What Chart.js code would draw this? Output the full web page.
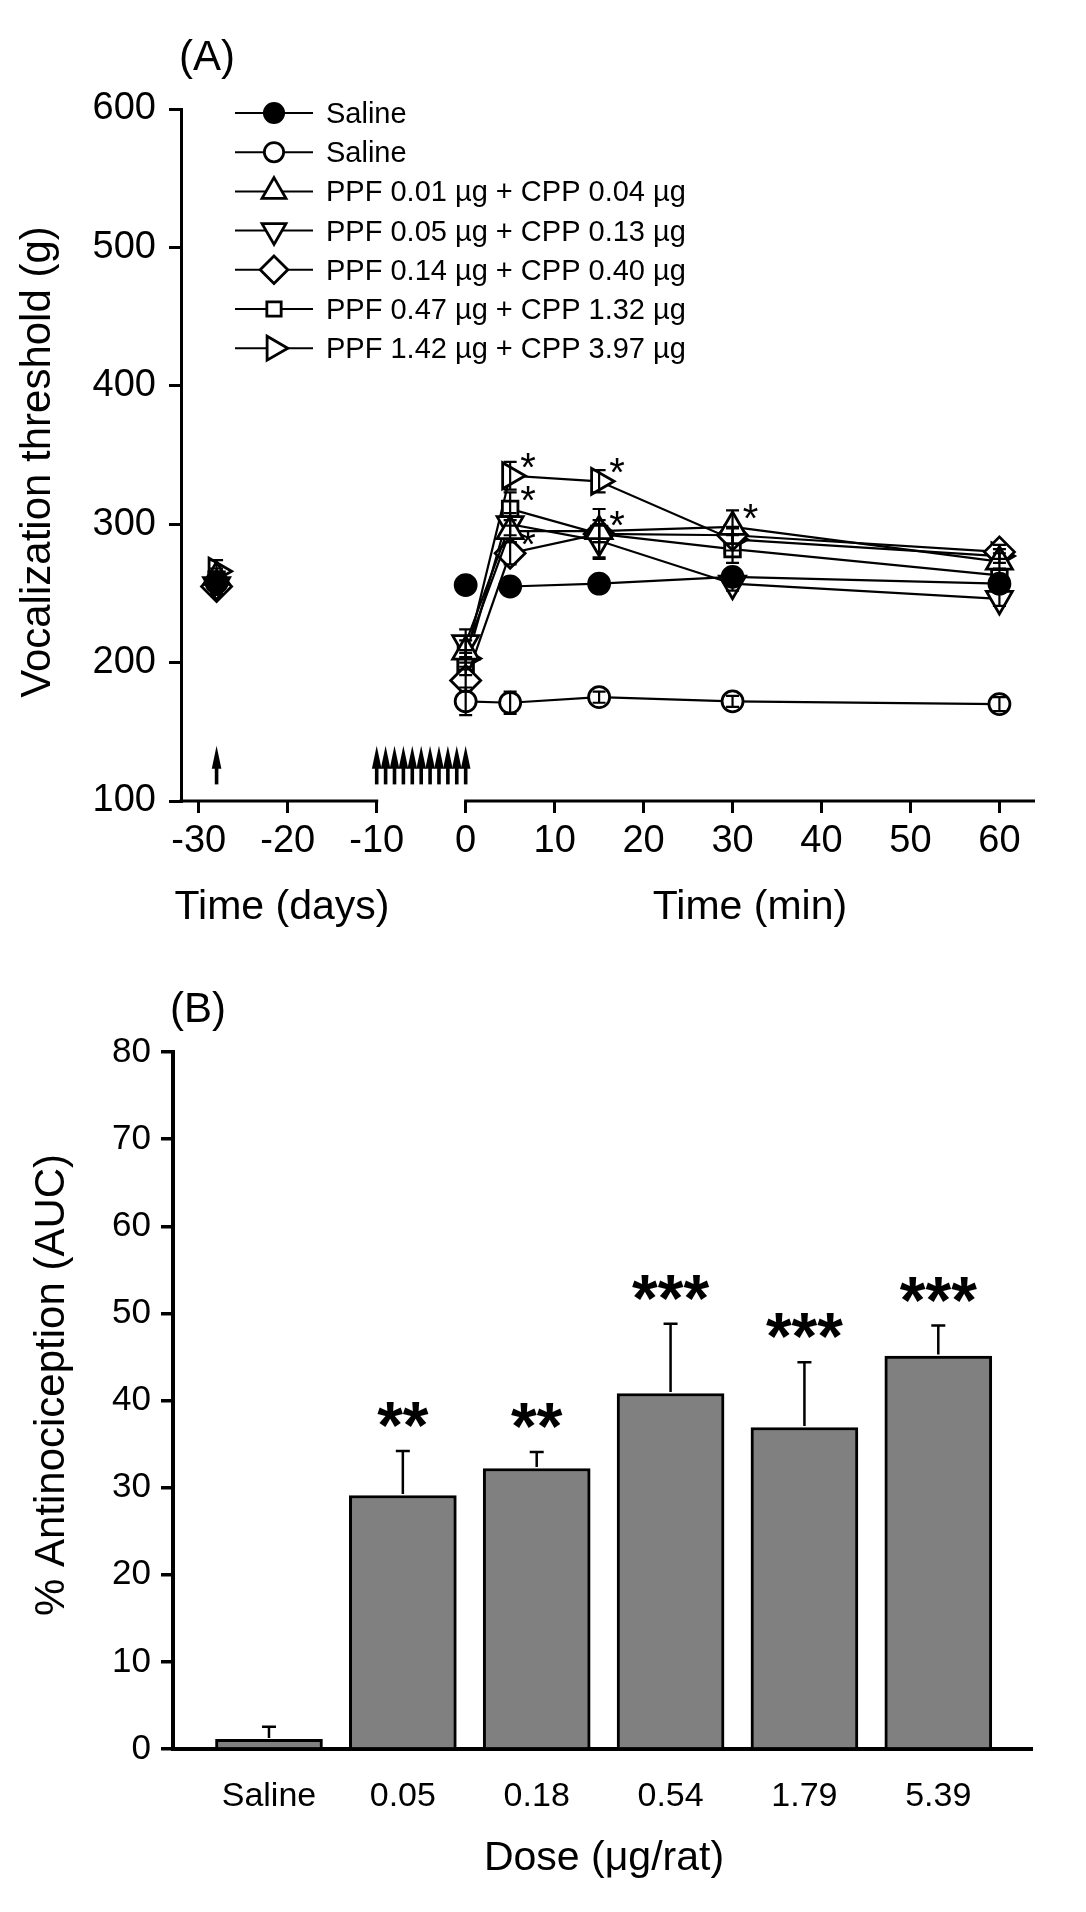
<!DOCTYPE html>
<html><head><meta charset="utf-8">
<script src="https://cdn.jsdelivr.net/npm/chart.js@4.4.1/dist/chart.umd.min.js"></script>
<style>
html,body{margin:0;padding:0;background:#fff;}
#wrap{position:relative;width:1086px;height:1912px;background:#fff;overflow:hidden;}
canvas{position:absolute;left:0;}
#ca{top:0;} #cb{top:960px;}
</style></head><body>
<div id="wrap"><canvas id="ca" width="1086" height="960"></canvas><canvas id="cb" width="1086" height="952"></canvas></div>
<script>
const FONT = '"Liberation Sans", Arial, Helvetica, sans-serif';

// ---------- Panel A data ----------
const timePoints = [-28, 0, 5, 15, 30, 60];
const xTickValues = [-30, -20, -10, 0, 10, 20, 30, 40, 50, 60];
const injectionDays = [-28, -10, -9, -8, -7, -6, -5, -4, -3, -2, -1, 0];

const salineFilled      = [258, 256, 255, 257, 262, 257];
const salineFilledSEM   = [4, 3, 3, 3, 4, 3];
const salineOpen        = [258, 172, 171, 175, 172, 170];
const salineOpenSEM     = [5, 10, 8, 4, 4, 5];
const ppf001            = [262, 208, 295, 295, 298, 273];
const ppf001SEM         = [6, 8, 8, 8, 12, 6];
const ppf005            = [256, 214, 300, 288, 257, 246];
const ppf005SEM         = [6, 10, 8, 12, 5, 5];
const ppf014            = [255, 187, 279, 293, 292, 280];
const ppf014SEM         = [6, 8, 8, 6, 6, 5];
const ppf047            = [260, 199, 311, 293, 282, 263];
const ppf047SEM         = [6, 8, 12, 18, 10, 5];
const ppf142            = [266, 203, 335, 331, 289, 277];
const ppf142SEM         = [8, 6, 10, 8, 8, 5];

const legendLabels = ['Saline', 'Saline', 'PPF 0.01 µg + CPP 0.04 µg', 'PPF 0.05 µg + CPP 0.13 µg',
  'PPF 0.14 µg + CPP 0.40 µg', 'PPF 0.47 µg + CPP 1.32 µg', 'PPF 1.42 µg + CPP 3.97 µg'];
// significance stars: [series index, time index]
const starsA = [[6, 2], [5, 2], [4, 2], [6, 3], [5, 3], [2, 4]];

// ---------- Panel B data ----------
const doseLabels = ['Saline', '0.05', '0.18', '0.54', '1.79', '5.39'];
const aucMeans   = [1.1, 29.1, 32.2, 40.8, 36.9, 45.1];
const aucSEM     = [1.45, 5.1, 1.9, 8.0, 7.5, 3.5];
const aucStars   = ['', '**', '**', '***', '***', '***'];

// ---------- styles ----------
const seriesA = [
  {v: salineFilled, e: salineFilledSEM, style: 'circle',   rot: 0,   r: 10.5, fill: '#000', gaps: [0, 1]},
  {v: salineOpen,   e: salineOpenSEM,   style: 'circle',   rot: 0,   r: 10.5, fill: '#fff', gaps: [0]},
  {v: ppf001,       e: ppf001SEM,       style: 'triangle', rot: 0,   r: 15,   fill: '#fff', gaps: [0]},
  {v: ppf005,       e: ppf005SEM,       style: 'triangle', rot: 180, r: 15,   fill: '#fff', gaps: [0]},
  {v: ppf014,       e: ppf014SEM,       style: 'rectRot',  rot: 0,   r: 15,   fill: '#fff', gaps: [0]},
  {v: ppf047,       e: ppf047SEM,       style: 'rect',     rot: 0,   r: 11,   fill: '#fff', gaps: [0]},
  {v: ppf142,       e: ppf142SEM,       style: 'triangle', rot: 90,  r: 15,   fill: '#fff', gaps: [0]},
];

function drawMarker(ctx, style, rot, r, x, y, fill) {
  ctx.save();
  ctx.translate(x, y);
  ctx.rotate(rot * Math.PI / 180);
  ctx.beginPath();
  if (style === 'circle') {
    ctx.arc(0, 0, r, 0, Math.PI * 2);
  } else if (style === 'triangle') {
    for (let k = 0; k < 3; k++) {
      const a = k * 2 * Math.PI / 3;
      const px = Math.sin(a) * r, py = -Math.cos(a) * r;
      if (k === 0) ctx.moveTo(px, py); else ctx.lineTo(px, py);
    }
    ctx.closePath();
  } else if (style === 'rect') {
    const h = r * Math.SQRT1_2;
    ctx.rect(-h, -h, 2 * h, 2 * h);
  } else if (style === 'rectRot') {
    ctx.moveTo(0, -r); ctx.lineTo(r, 0); ctx.lineTo(0, r); ctx.lineTo(-r, 0); ctx.closePath();
  }
  ctx.fillStyle = fill; ctx.fill();
  ctx.lineWidth = 2.8; ctx.strokeStyle = '#000'; ctx.stroke();
  ctx.restore();
}

// ---------- Panel A plugins ----------
const panelAPlugin = {
  id: 'panelA',
  afterDraw(chart) {
    const ctx = chart.ctx, xs = chart.scales.x, ys = chart.scales.y, ca = chart.chartArea;
    ctx.save();
    // broken x axis
    ctx.strokeStyle = '#000'; ctx.lineWidth = 3;
    ctx.beginPath();
    ctx.moveTo(ca.left - 1.5, ca.bottom); ctx.lineTo(xs.getPixelForValue(-10) + 1.5, ca.bottom);
    ctx.moveTo(xs.getPixelForValue(0) - 1.5, ca.bottom); ctx.lineTo(ca.right, ca.bottom);
    ctx.stroke();

    // error bars
    ctx.lineWidth = 2.2;
    seriesA.forEach(s => {
      s.v.forEach((val, i) => {
        const e = s.e[i]; if (!e) return;
        const x = xs.getPixelForValue(timePoints[i]);
        const y1 = ys.getPixelForValue(val + e), y2 = ys.getPixelForValue(val - e);
        ctx.beginPath();
        ctx.moveTo(x, y1); ctx.lineTo(x, y2);
        ctx.moveTo(x - 6.5, y1); ctx.lineTo(x + 6.5, y1);
        ctx.moveTo(x - 6.5, y2); ctx.lineTo(x + 6.5, y2);
        ctx.stroke();
      });
    });

    // injection arrows
    ctx.fillStyle = '#000';
    injectionDays.forEach(d => {
      const x = xs.getPixelForValue(d);
      const yTip = ys.getPixelForValue(140), yBase = ys.getPixelForValue(112);
      ctx.beginPath();
      ctx.moveTo(x, yTip); ctx.lineTo(x + 4.8, yTip + 23); ctx.lineTo(x - 4.8, yTip + 23); ctx.closePath();
      ctx.fill();
      ctx.fillRect(x - 1.8, yTip + 15, 3.6, yBase - yTip - 15);
    });

    // stars
    ctx.font = '40px ' + FONT; ctx.textAlign = 'center'; ctx.textBaseline = 'alphabetic';
    starsA.forEach(([si, ti]) => {
      const x = xs.getPixelForValue(timePoints[ti]) + 18;
      const y = ys.getPixelForValue(seriesA[si].v[ti]) - 18;
      ctx.fillText('*', x, y + 0.575 * 40);
    });

    // legend
    ctx.font = '29px ' + FONT; ctx.textAlign = 'left'; ctx.textBaseline = 'middle';
    legendLabels.forEach((lab, i) => {
      const y = 113 + i * 39.2;
      ctx.lineWidth = 2; ctx.strokeStyle = '#000';
      ctx.beginPath(); ctx.moveTo(235, y); ctx.lineTo(313, y); ctx.stroke();
      const s = seriesA[i];
      drawMarker(ctx, s.style, s.rot, s.r * 0.92, 274, y, s.fill);
      ctx.fillStyle = '#000';
      ctx.fillText(lab, 326, y + 2);
    });

    // titles
    ctx.fillStyle = '#000';
    ctx.font = '42px ' + FONT; ctx.textAlign = 'left'; ctx.textBaseline = 'alphabetic';
    ctx.fillText('(A)', 179, 70);
    ctx.font = '41px ' + FONT; ctx.textAlign = 'center';
    ctx.fillText('Time (days)', 282, 919);
    ctx.fillText('Time (min)', 750, 919);
    ctx.save();
    ctx.translate(50, 462); ctx.rotate(-Math.PI / 2);
    ctx.font = '42px ' + FONT; ctx.textAlign = 'center'; ctx.textBaseline = 'alphabetic';
    ctx.fillText('Vocalization threshold (g)', 0, 0);
    ctx.restore();
    ctx.restore();
  }
};

new Chart(document.getElementById('ca'), {
  type: 'line',
  data: {
    datasets: seriesA.map((s, si) => ({
      label: legendLabels[si],
      data: timePoints.map((t, i) => ({x: t, y: s.v[i]})),
      borderColor: '#000', borderWidth: 2.2,
      pointStyle: s.style, pointRotation: s.rot,
      pointRadius: s.r, pointHoverRadius: s.r,
      pointBackgroundColor: s.fill, pointBorderColor: '#000', pointBorderWidth: 2.8,
      fill: false, tension: 0, clip: false,
      segment: { borderColor: c => s.gaps.includes(c.p0DataIndex) ? 'rgba(0,0,0,0)' : '#000' }
    }))
  },
  options: {
    responsive: false, animation: false, devicePixelRatio: 1,
    layout: { padding: { left: 0, right: 51, top: 109, bottom: 0 } },
    plugins: { legend: { display: false }, tooltip: { enabled: false } },
    events: [],
    scales: {
      x: {
        type: 'linear', min: -32, max: 64,
        afterFit(s) { s.height = 159; },
        afterBuildTicks(s) { s.ticks = xTickValues.map(v => ({value: v})); },
        border: { display: false },
        grid: { display: true, drawOnChartArea: false, drawTicks: true, tickLength: 12, color: '#000', lineWidth: 3 },
        ticks: { autoSkip: false, maxRotation: 0, minRotation: 0, padding: 6, color: '#000',
                 font: { family: FONT, size: 38 }, callback: v => String(v) }
      },
      y: {
        type: 'linear', min: 100, max: 600,
        afterFit(s) { s.width = 181; },
        border: { display: true, color: '#000', width: 3 },
        grid: { display: true, drawOnChartArea: false, drawTicks: true, tickLength: 12, color: '#000', lineWidth: 3 },
        ticks: { stepSize: 100, padding: 13, color: '#000', font: { family: FONT, size: 38 } }
      }
    }
  },
  plugins: [panelAPlugin]
});

// ---------- Panel B ----------
const OFF = 960;
const panelBPlugin = {
  id: 'panelB',
  afterDraw(chart) {
    const ctx = chart.ctx, xs = chart.scales.x, ys = chart.scales.y;
    ctx.save();
    ctx.strokeStyle = '#000'; ctx.fillStyle = '#000'; ctx.lineWidth = 2.5;
    aucMeans.forEach((m, i) => {
      const x = xs.getPixelForValue(i);
      const y0 = ys.getPixelForValue(m), y1 = ys.getPixelForValue(m + aucSEM[i]);
      ctx.beginPath();
      ctx.moveTo(x, y0 - 1.5); ctx.lineTo(x, y1);
      ctx.moveTo(x - 7, y1); ctx.lineTo(x + 7, y1);
      ctx.stroke();
      if (aucStars[i]) {
        ctx.font = 'bold 66px ' + FONT; ctx.textAlign = 'center'; ctx.textBaseline = 'alphabetic';
        ctx.fillText(aucStars[i], x, y1 - 41 + 0.575 * 66);
      }
    });
    ctx.font = '42px ' + FONT; ctx.textAlign = 'left'; ctx.textBaseline = 'alphabetic';
    ctx.fillText('(B)', 170, 1022 - OFF);
    ctx.font = '41px ' + FONT; ctx.textAlign = 'center';
    ctx.fillText('Dose (μg/rat)', 604, 1870 - OFF);
    ctx.save();
    ctx.translate(64, 1385 - OFF); ctx.rotate(-Math.PI / 2);
    ctx.font = '42px ' + FONT; ctx.textAlign = 'center'; ctx.textBaseline = 'alphabetic';
    ctx.fillText('% Antinociception (AUC)', 0, 0);
    ctx.restore();
    ctx.restore();
  }
};

new Chart(document.getElementById('cb'), {
  type: 'bar',
  data: {
    datasets: [{
      data: aucMeans.map((m, i) => ({x: i, y: m})),
      backgroundColor: '#808080', borderColor: '#000', borderWidth: 3,
      borderSkipped: 'start', barThickness: 107
    }]
  },
  options: {
    responsive: false, animation: false, devicePixelRatio: 1,
    layout: { padding: { left: 0, right: 54, top: 92, bottom: 0 } },
    plugins: { legend: { display: false }, tooltip: { enabled: false } },
    events: [],
    scales: {
      x: {
        type: 'linear', min: -0.717, max: 5.70, offset: false,
        afterFit(s) { s.height = 163; },
        afterBuildTicks(s) { s.ticks = doseLabels.map((l, i) => ({value: i})); },
        border: { display: true, color: '#000', width: 4 },
        grid: { display: false },
        ticks: { autoSkip: false, maxRotation: 0, minRotation: 0, padding: 19, color: '#000',
                 font: { family: FONT, size: 34 }, callback: v => doseLabels[v] }
      },
      y: {
        type: 'linear', min: 0, max: 80,
        afterFit(s) { s.width = 173; },
        border: { display: true, color: '#000', width: 4 },
        grid: { display: true, drawOnChartArea: false, drawTicks: true, tickLength: 12, color: '#000', lineWidth: 3.5 },
        ticks: { stepSize: 10, padding: 10, color: '#000', font: { family: FONT, size: 35 } }
      }
    }
  },
  plugins: [panelBPlugin]
});
</script>
</body></html>
